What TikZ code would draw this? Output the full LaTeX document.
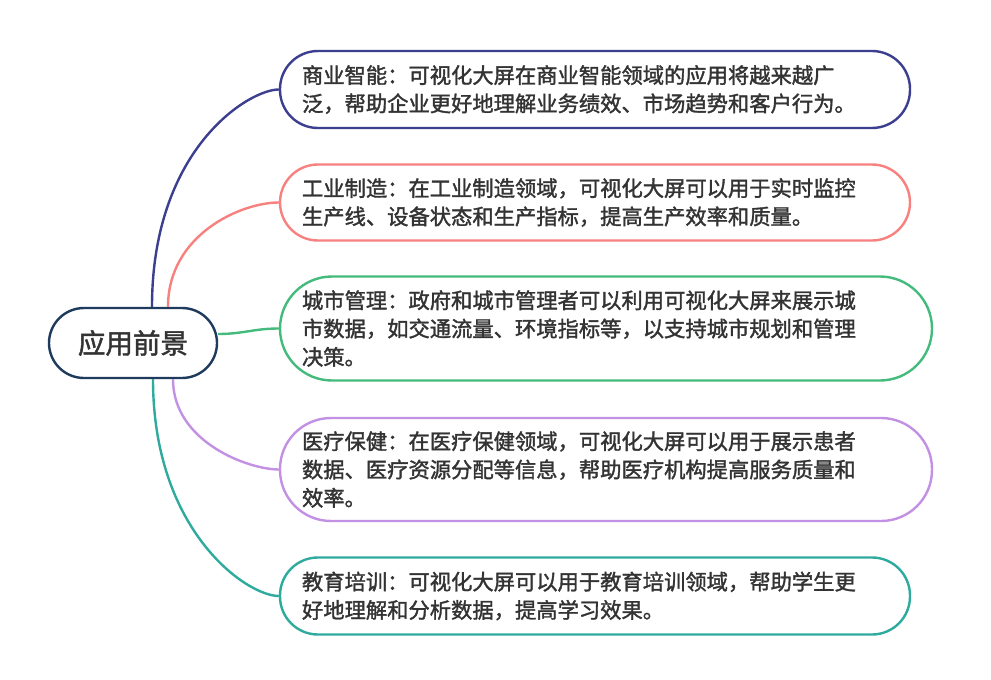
\documentclass[tikz,border=0pt]{standalone}
\usepackage{fontspec}
\newfontfamily\cjk[RawFeature={embolden=1.6}]{Noto Sans CJK SC}
\definecolor{cA}{HTML}{3C3F8F}
\definecolor{cB}{HTML}{F7817E}
\definecolor{cC}{HTML}{44BB7C}
\definecolor{cD}{HTML}{C391E3}
\definecolor{cE}{HTML}{2EAA9E}
\definecolor{cRoot}{HTML}{1E3A5C}
\definecolor{txt}{HTML}{333333}
\begin{document}
\begin{tikzpicture}[x=1pt,y=-1pt,
  box/.style={draw, line width=2.4pt, fill=white, rounded corners=#1, align=left,
    inner xsep=22pt, inner ysep=0pt, text=txt,
    font=\cjk\fontsize{21.3}{28.3}\selectfont},
  rootbox/.style={draw=cRoot, line width=2.4pt, fill=white, rounded corners=35pt,
    minimum width=168pt, minimum height=70pt, inner sep=0pt, text=txt,
    font=\cjk\fontsize{27.5}{30}\selectfont},
  conn/.style={line width=2.4pt}]
\useasboundingbox (0,0) rectangle (991,680);
\fill[white] (0,0) rectangle (991,680);

\node[rootbox] (root) at (133,343) {应用前景};

\node[box=38pt, draw=cA, minimum width=630pt, minimum height=77pt, text width=586pt] (b1) at (595,89.5)
  {商业智能：可视化大屏在商业智能领域的应用将越来越广\\泛，帮助企业更好地理解业务绩效、市场趋势和客户行为。};
\node[box=38pt, draw=cB, minimum width=630pt, minimum height=76pt, text width=586pt] (b2) at (595,202.5)
  {工业制造：在工业制造领域，可视化大屏可以用于实时监控\\生产线、设备状态和生产指标，提高生产效率和质量。};
\node[box=52pt, draw=cC, minimum width=652pt, minimum height=104pt, text width=608pt] (b3) at (606,328.5)
  {城市管理：政府和城市管理者可以利用可视化大屏来展示城\\市数据，如交通流量、环境指标等，以支持城市规划和管理\\决策。};
\node[box=51pt, draw=cD, minimum width=652pt, minimum height=103pt, text width=608pt] (b4) at (606,469.5)
  {医疗保健：在医疗保健领域，可视化大屏可以用于展示患者\\数据、医疗资源分配等信息，帮助医疗机构提高服务质量和\\效率。};
\node[box=38pt, draw=cE, minimum width=630pt, minimum height=77pt, text width=586pt] (b5) at (595,596)
  {教育培训：可视化大屏可以用于教育培训领域，帮助学生更\\好地理解和分析数据，提高学习效果。};

\draw[conn, cA] ([xshift=19pt]root.north) .. controls +(0,-158) and +(-30,0) .. (b1.west);
\draw[conn, cB] ([xshift=35pt]root.north) .. controls +(0,-72) and +(-38,0) .. (b2.west);
\draw[conn, cC] ([yshift=9pt]root.east) .. controls +(25,0) and +(-25,0) .. (b3.west);
\draw[conn, cD] ([xshift=40pt]root.south) .. controls +(0,63) and +(-30,0) .. (b4.west);
\draw[conn, cE] ([xshift=20pt]root.south) .. controls +(0,152) and +(-32,0) .. (b5.west);
\end{tikzpicture}
\end{document}
